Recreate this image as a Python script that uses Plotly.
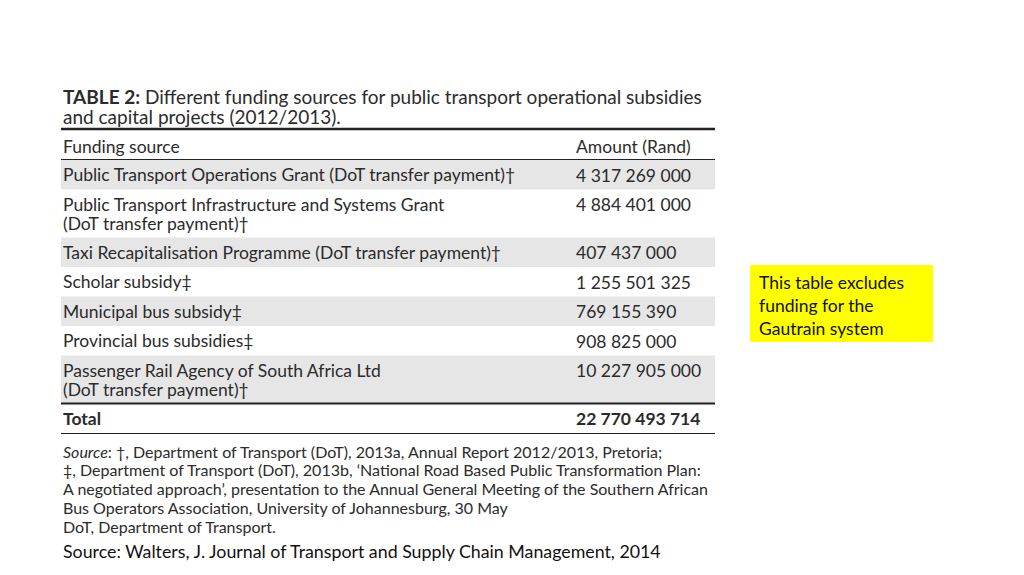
import plotly.graph_objects as go

sources = [
    "Public Transport Operations Grant (DoT transfer payment)†",
    "Public Transport Infrastructure and Systems Grant<br>(DoT transfer payment)†",
    "Taxi Recapitalisation Programme (DoT transfer payment)†",
    "Scholar subsidy‡",
    "Municipal bus subsidy‡",
    "Provincial bus subsidies‡",
    "Passenger Rail Agency of South Africa Ltd<br>(DoT transfer payment)†",
]
amounts = ["4 317 269 000", "4 884 401 000", "407 437 000", "1 255 501 325",
           "769 155 390", "908 825 000", "10 227 905 000"]
total = "22 770 493 714"

source_note = [
    "<i>Source</i>: †, Department of Transport (DoT), 2013a, Annual Report 2012/2013, Pretoria;",
    "‡, Department of Transport (DoT), 2013b, ‘National Road Based Public Transformation Plan:",
    "A negotiated approach’, presentation to the Annual General Meeting of the Southern African",
    "Bus Operators Association, University of Johannesburg, 30 May",
    "DoT, Department of Transport.",
]

FONT = "Lato, Carlito, sans-serif"
TXT = "#2b2b2b"
X0, X1, XA = 62, 716, 575

fig = go.Figure()
# page body has an 8px margin, so shift the coordinate frame to compensate
fig.update_xaxes(range=[9, 1033], visible=False)
fig.update_yaxes(range=[583, 8], visible=False)
shapes, ann = [], []

def text(x, y, s, size=16, color=TXT, xanchor="left", font=FONT):
    ann.append(dict(x=x, y=y, text=s, showarrow=False, xanchor=xanchor, yanchor="middle",
                    align="left", font=dict(family=font, size=size, color=color)))

def hline(y, w):
    shapes.append(dict(type="line", x0=X0, x1=X1, y0=y, y1=y, line=dict(color="#222", width=w)))

text(X0, 96, "<b>TABLE 2:</b> Different funding sources for public transport operational subsidies", 19)
text(X0, 116, "and capital projects (2012/2013).", 19)

hline(129, 2.5)
text(X0, 146, "Funding source", 17.5)
text(XA, 146, "Amount (Rand)", 17.5)
hline(159.5, 1.2)

y = 160
for i, (s, a) in enumerate(zip(sources, amounts)):
    n = s.count("<br>") + 1
    h = 29.5 if n == 1 else 48
    if i % 2 == 0:
        shapes.append(dict(type="rect", x0=X0, x1=X1, y0=y, y1=y + h, line=dict(width=0),
                           fillcolor="#e6e6e6", layer="below"))
    if n == 1:
        text(X0, y + h / 2, s, 17.5)
    else:
        for k, part in enumerate(s.split("<br>")):
            text(X0, y + 15 + k * 19, part, 17.5)
    text(XA, y + 15, a, 17.5)
    y += h

hline(y, 2)
text(X0, y + 15, "<b>Total</b>", 17.5)
text(XA, y + 15, "<b>" + total + "</b>", 17.5)
hline(y + 30, 1)

for k, line in enumerate(source_note):
    text(X0, 451 + k * 18.8, line, 16)

text(X0, 551, "Source: Walters, J. Journal of Transport and Supply Chain Management, 2014", 17.8,
     color="#111")

shapes.append(dict(type="rect", x0=751, x1=934, y0=265, y1=342, line=dict(width=0),
                   fillcolor="#ffff00"))
for k, line in enumerate(["This table excludes", "funding for the", "Gautrain system"]):
    text(758, 282 + k * 23, line, 17.5, color="#111")

fig.update_layout(width=1024, height=575, margin=dict(l=0, r=0, t=0, b=0),
                  plot_bgcolor="white", paper_bgcolor="white", shapes=shapes,
                  annotations=ann, showlegend=False)
fig.write_html("out.html", config={"displayModeBar": False})
